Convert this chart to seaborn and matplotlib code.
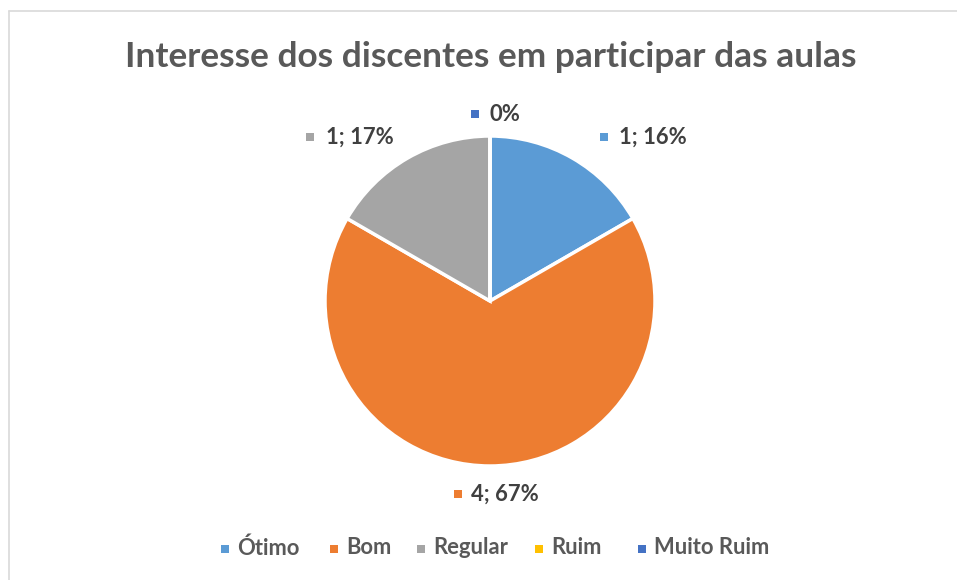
import matplotlib
matplotlib.use("Agg")
import matplotlib.pyplot as plt
from matplotlib.lines import Line2D
from matplotlib.patches import Rectangle
import seaborn as sns

categories = ["Ótimo", "Bom", "Regular", "Ruim", "Muito Ruim"]
values = [1, 4, 1, 0, 0]
pct_labels = ["16%", "67%", "17%", "0%", "0%"]
colors = ["#5B9BD5", "#ED7D31", "#A5A5A5", "#FFC000", "#4472C4"]
title = "Interesse dos discentes em participar das aulas"

sns.set_theme(style="white")
plt.rcParams["font.family"] = ["Lato", "DejaVu Sans"]

W, H = 957, 580
fig = plt.figure(figsize=(W / 100, H / 100), dpi=100)
fig.patch.set_facecolor("white")

# pie axes: center (490,301), radius ~165 px
R = 165
cx, cy = 490, 301
ax = fig.add_axes([(cx - R) / W, 1 - (cy + R) / H, 2 * R / W, 2 * R / H])
wedges, _ = ax.pie(values, colors=colors, startangle=90, counterclock=False,
                   wedgeprops=dict(edgecolor="white", linewidth=2.5))
ax.set_xlim(-1, 1)
ax.set_ylim(-1, 1)
ax.set_aspect("equal")
ax.axis("off")

txt_color = "#404040"
fs = 15.8

def px(x, y):
    return x / W, 1 - y / H

def square(x, y, color):
    fig.patches.append(Rectangle(px(x - 4, y + 4), 8 / W, 8 / H,
                                 transform=fig.transFigure, facecolor=color,
                                 edgecolor="none"))

# data labels
label_pos = {0: (604, 137, 619), 1: (458, 494, 471), 2: (310, 137, 326), 4: (475, 114, 490)}
for i, (xs, y, xt) in label_pos.items():
    t = f"{values[i]}; {pct_labels[i]}" if values[i] > 0 else pct_labels[i]
    square(xs, y, colors[i])
    fig.text(*px(xt, y), t, ha="left", va="center", fontsize=fs,
             fontweight="bold", color=txt_color)

# legend
leg_sq = [225, 334, 421, 539, 642]
for i, cat in enumerate(categories):
    square(leg_sq[i], 549, colors[i])
    fig.text(*px(leg_sq[i] + 12, 548), cat, ha="left", va="center", fontsize=fs,
             fontweight="bold", color="#595959")

fig.text(*px(491, 57), title, ha="center", va="center", fontsize=25.4,
         fontweight="bold", color="#595959")

# chart border (top and left visible)
fig.add_artist(Line2D([9 / W, 1], [1 - 11 / H, 1 - 11 / H], transform=fig.transFigure,
                      color="#D9D9D9", linewidth=1.2))
fig.add_artist(Line2D([9 / W, 9 / W], [1 - 11 / H, 0], transform=fig.transFigure,
                      color="#D9D9D9", linewidth=1.2))

fig.savefig("out.png", dpi=100)
